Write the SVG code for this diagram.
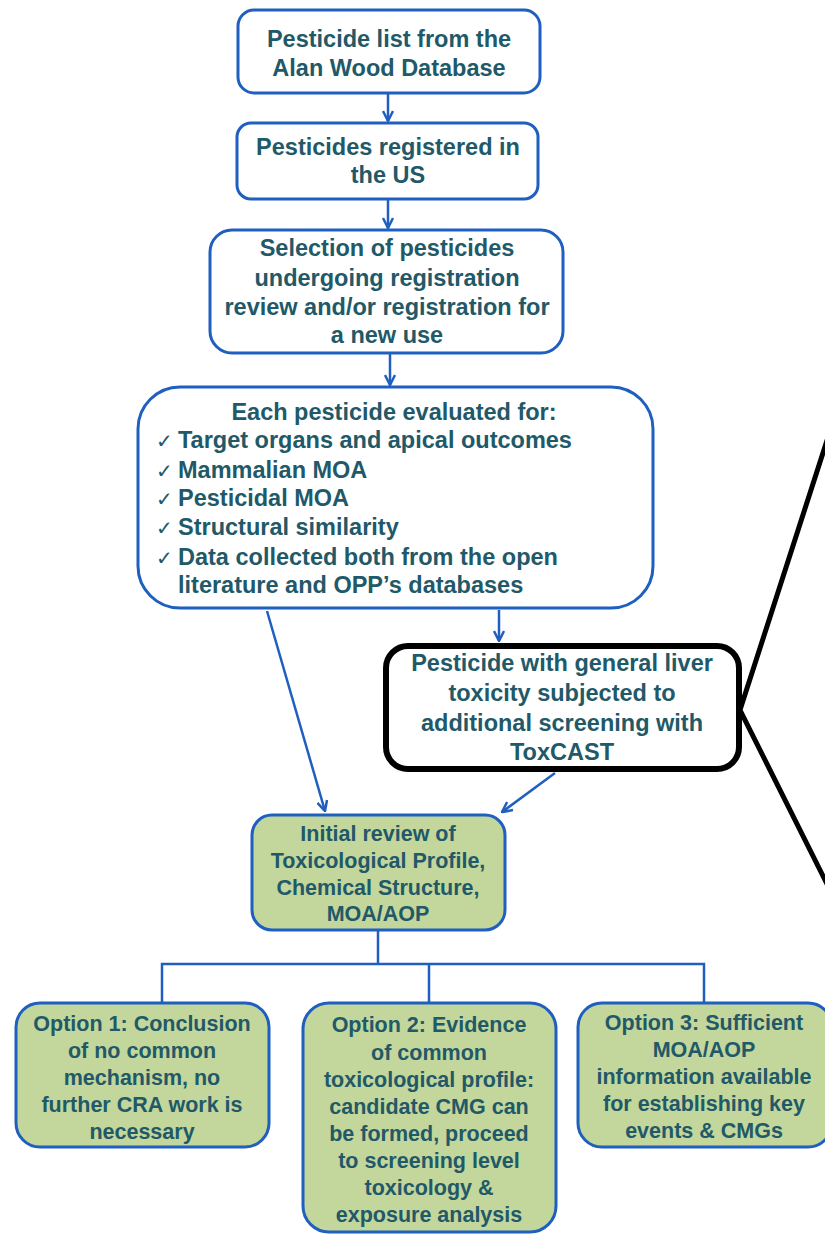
<svg xmlns="http://www.w3.org/2000/svg" width="825" height="1235" viewBox="0 0 825 1235">
<style>
.box{fill:#fff;stroke:#1f5fbf;stroke-width:3}
.green{fill:#c3d69b;stroke:#1f5fbf;stroke-width:3}
.black{fill:#fff;stroke:#000;stroke-width:6}
text{font-family:"Liberation Sans",Arial,sans-serif;font-weight:bold;fill:#215968}
.t{font-size:23.5px;text-anchor:middle}
.g{font-size:21.5px;text-anchor:middle}
.l{font-size:23.5px}
.ck{font-family:"DejaVu Sans",sans-serif;font-weight:normal;font-size:20px}
.conn{stroke:#1f5fbf;stroke-width:2.5;fill:none}
.zoom{stroke:#000;stroke-width:5;fill:none}
</style>
<defs>
<marker id="ah" viewBox="0 0 12 12" refX="11" refY="6" markerWidth="12" markerHeight="12" markerUnits="userSpaceOnUse" orient="auto">
<path d="M1,1 L11,6 L1,11" fill="none" stroke="#1f5fbf" stroke-width="2.5"/>
</marker>
</defs>
<g id="connectors">
<line class="conn" x1="388" y1="94" x2="388" y2="121" marker-end="url(#ah)"/>
<line class="conn" x1="388" y1="200" x2="388" y2="228" marker-end="url(#ah)"/>
<line class="conn" x1="390" y1="354" x2="390" y2="385" marker-end="url(#ah)"/>
<line class="conn" x1="499" y1="610" x2="499" y2="641" marker-end="url(#ah)"/>
<line class="conn" x1="267" y1="611" x2="325" y2="811" marker-end="url(#ah)"/>
<line class="conn" x1="555" y1="773" x2="502" y2="812" marker-end="url(#ah)"/>
<polyline class="conn" points="378,931 378,964"/>
<polyline class="conn" points="162,1002 162,964 704,964 704,1002"/>
<line class="conn" x1="429" y1="964" x2="429" y2="1002"/>
<polyline class="zoom" points="831,428 740,710 831,892"/>
</g>
<g id="n1">
<rect class="box" x="238" y="10" width="302" height="83" rx="16"/>
<text class="t" x="389" y="47">Pesticide list from the</text>
<text class="t" x="389" y="76">Alan Wood Database</text>
</g>
<g id="n2">
<rect class="box" x="237" y="123" width="301" height="76" rx="14"/>
<text class="t" x="388" y="155">Pesticides registered in</text>
<text class="t" x="388" y="183">the US</text>
</g>
<g id="n3">
<rect class="box" x="210" y="230" width="353" height="123" rx="22"/>
<text class="t" x="387" y="256">Selection of pesticides</text>
<text class="t" x="387" y="286">undergoing registration</text>
<text class="t" x="387" y="315">review and/or registration for</text>
<text class="t" x="387" y="343">a new use</text>
</g>
<g id="n4">
<rect class="box" x="138" y="387" width="515" height="221" rx="42"/>
<text class="t" x="394" y="420">Each pesticide evaluated for:</text>
<text class="ck" x="156" y="448">✓</text>
<text class="l" x="178" y="448">Target organs and apical outcomes</text>
<text class="ck" x="156" y="478">✓</text>
<text class="l" x="178" y="478">Mammalian MOA</text>
<text class="ck" x="156" y="506">✓</text>
<text class="l" x="178" y="506">Pesticidal MOA</text>
<text class="ck" x="156" y="535">✓</text>
<text class="l" x="178" y="535">Structural similarity</text>
<text class="ck" x="156" y="565">✓</text>
<text class="l" x="178" y="565">Data collected both from the open</text>
<text class="l" x="178" y="593">literature and OPP’s databases</text>
</g>
<g id="n5">
<rect class="black" x="386" y="646" width="353" height="123" rx="22"/>
<text class="t" x="562" y="671">Pesticide with general liver</text>
<text class="t" x="562" y="701">toxicity subjected to</text>
<text class="t" x="562" y="731">additional screening with</text>
<text class="t" x="562" y="760">ToxCAST</text>
</g>
<g id="n6">
<rect class="green" x="252" y="815" width="253" height="115" rx="20"/>
<text class="g" x="378" y="841">Initial review of</text>
<text class="g" x="378" y="868">Toxicological Profile,</text>
<text class="g" x="378" y="895">Chemical Structure,</text>
<text class="g" x="378" y="921">MOA/AOP</text>
</g>
<g id="opt1">
<rect class="green" x="16" y="1003" width="253" height="144" rx="24"/>
<text class="g" x="142" y="1031">Option 1: Conclusion</text>
<text class="g" x="142" y="1058">of no common</text>
<text class="g" x="142" y="1085">mechanism, no</text>
<text class="g" x="142" y="1112">further CRA work is</text>
<text class="g" x="142" y="1139">necessary</text>
</g>
<g id="opt2">
<rect class="green" x="303" y="1003" width="253" height="229" rx="26"/>
<text class="g" x="429" y="1032">Option 2: Evidence</text>
<text class="g" x="429" y="1060">of common</text>
<text class="g" x="429" y="1087">toxicological profile:</text>
<text class="g" x="429" y="1114">candidate CMG can</text>
<text class="g" x="429" y="1141">be formed, proceed</text>
<text class="g" x="429" y="1168">to screening level</text>
<text class="g" x="429" y="1195">toxicology &amp;</text>
<text class="g" x="429" y="1222">exposure analysis</text>
</g>
<g id="opt3">
<rect class="green" x="578" y="1003" width="254" height="144" rx="24"/>
<text class="g" x="704" y="1030">Option 3: Sufficient</text>
<text class="g" x="704" y="1057">MOA/AOP</text>
<text class="g" x="704" y="1084">information available</text>
<text class="g" x="704" y="1111">for establishing key</text>
<text class="g" x="704" y="1138">events &amp; CMGs</text>
</g>
</svg>
